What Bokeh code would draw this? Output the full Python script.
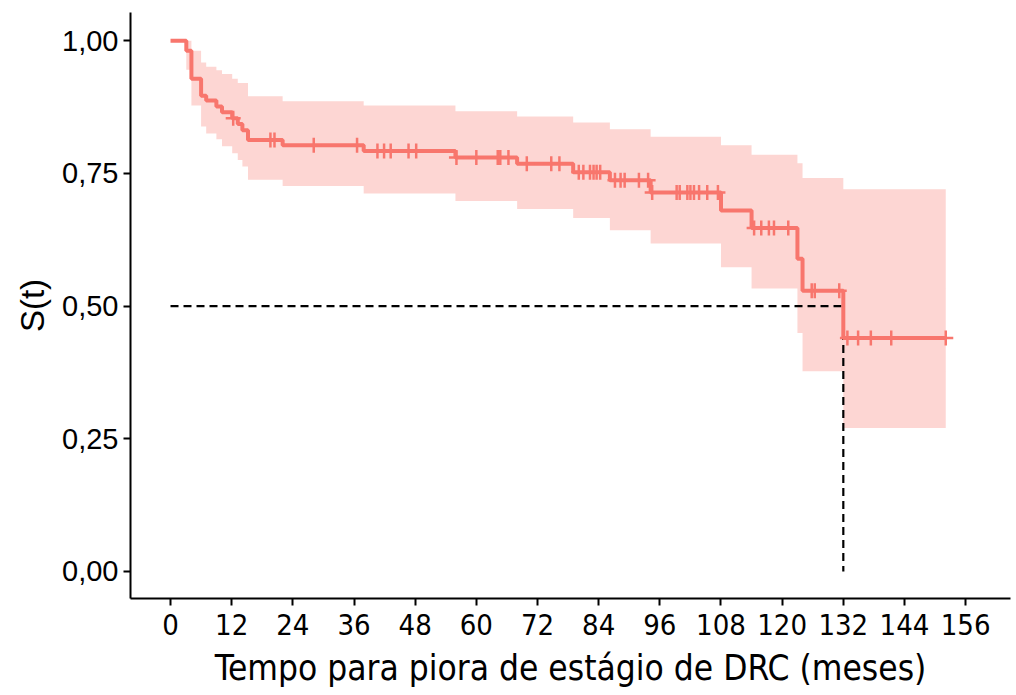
import numpy as np
from bokeh.plotting import figure
from bokeh.models import Range1d, FixedTicker
from bokeh.embed import file_html
from bokeh.resources import INLINE

# Kaplan-Meier estimate (event times, survival, 95% CI)
event_time = [0.0, 3.1, 4.1, 6.0, 7.0, 9.0, 10.1, 12.1, 13.2, 14.1, 15.2, 22.0,
              37.9, 55.9, 68.0, 79.0, 86.2, 94.2, 108.0, 114.0, 123.0, 124.0, 132.0, 152.1]
survival = [1.000, 0.981, 0.928, 0.896, 0.887, 0.876, 0.865, 0.854, 0.843, 0.831, 0.813, 0.803,
            0.792, 0.780, 0.768, 0.752, 0.737, 0.714, 0.680, 0.647, 0.589, 0.529, 0.440, 0.440]
ci_upper = [1.000, 1.000, 0.981, 0.959, 0.951, 0.944, 0.937, 0.928, 0.920, 0.920, 0.895, 0.886,
            0.878, 0.867, 0.857, 0.846, 0.833, 0.819, 0.803, 0.785, 0.769, 0.741, 0.720, 0.720]
ci_lower = [1.000, 0.945, 0.878, 0.838, 0.825, 0.814, 0.801, 0.788, 0.775, 0.763, 0.738, 0.726,
            0.712, 0.698, 0.683, 0.666, 0.643, 0.618, 0.573, 0.533, 0.449, 0.377, 0.270, 0.270]

censor_time = [12.3, 19.6, 20.4, 28.1, 36.6, 40.6, 41.9, 43.2, 46.7, 48.2, 56.1, 60.0, 64.2,
               64.7, 66.3, 69.9, 74.7, 76.3, 80.1, 81.0, 82.3, 83.0, 83.6, 84.3, 87.2, 88.3,
               89.1, 91.9, 93.7, 94.5, 99.3, 99.9, 101.4, 102.0, 102.7, 103.7, 105.3, 107.4,
               114.5, 115.9, 117.4, 118.4, 121.2, 125.8, 126.4, 131.2, 132.8, 134.9, 137.4,
               141.4, 152.1]

median_time = 132.0
median_surv = 0.5

x_ticks = [0, 12, 24, 36, 48, 60, 72, 84, 96, 108, 120, 132, 144, 156]
y_ticks = [0.0, 0.25, 0.5, 0.75, 1.0]
y_tick_labels = ["0,00", "0,25", "0,50", "0,75", "1,00"]

x_title = "Tempo para piora de estágio de DRC (meses)"
y_title = "S(t)"

RED = "#F8766D"

p = figure(width=1016, height=695, output_backend="svg", toolbar_location=None,
           x_range=Range1d(-7.85, 164.8), y_range=Range1d(-0.051, 1.053),
           min_border_left=130, min_border_right=6, min_border_top=12, min_border_bottom=97)
p.outline_line_color = None
p.grid.visible = False
p.background_fill_color = "white"
p.border_fill_color = "white"

# confidence band
p.varea_step(x=event_time, y1=ci_lower, y2=ci_upper, step_mode="after",
             fill_color=RED, fill_alpha=0.3)

# median lines
p.line([0, median_time], [median_surv, median_surv], line_color="black",
       line_width=2.2, line_dash="8 5")
p.line([median_time, median_time], [median_surv, 0], line_color="black",
       line_width=2.2, line_dash="8 5")

# survival curve
p.step(event_time, survival, mode="after", line_color=RED, line_width=4)

# censor marks
idx = np.searchsorted(np.array(event_time), np.array(censor_time), side="right") - 1
censor_surv = [survival[i] for i in idx]
p.scatter(censor_time, censor_surv, marker="cross", size=15, line_color=RED, line_width=2.5)

# axes
p.xaxis.ticker = FixedTicker(ticks=x_ticks)
p.yaxis.ticker = FixedTicker(ticks=y_ticks)
p.yaxis.major_label_overrides = {t: l for t, l in zip(y_ticks, y_tick_labels)}
for ax in (p.xaxis[0], p.yaxis[0]):
    ax.axis_line_width = 2
    ax.axis_line_color = "black"
    ax.major_tick_line_color = "black"
    ax.major_tick_line_width = 2
    ax.major_tick_out = 7
    ax.major_tick_in = 0
    ax.minor_tick_line_color = None
    ax.major_label_text_color = "black"
    ax.axis_label_text_color = "black"
    ax.axis_label_text_font_style = "normal"

p.yaxis.major_label_text_font = "Liberation Sans"
p.yaxis.major_label_text_font_size = "29px"
p.yaxis.major_label_standoff = 5
p.yaxis.axis_label = y_title
p.yaxis.axis_label_text_font = "Liberation Sans"
p.yaxis.axis_label_text_font_size = "33px"
p.yaxis.axis_label_standoff = 8

p.xaxis.major_label_text_font = "'Liberation Sans Narrow', 'DejaVu Sans Condensed', sans-serif"
p.xaxis.major_label_text_font_size = "29px"
p.xaxis.major_label_standoff = 8
p.xaxis.axis_label = x_title
p.xaxis.axis_label_text_font = "'Liberation Sans Narrow', 'DejaVu Sans Condensed', sans-serif"
p.xaxis.axis_label_text_font_size = "35px"
p.xaxis.axis_label_standoff = 10

open("out.html", "w").write(file_html(p, INLINE))
